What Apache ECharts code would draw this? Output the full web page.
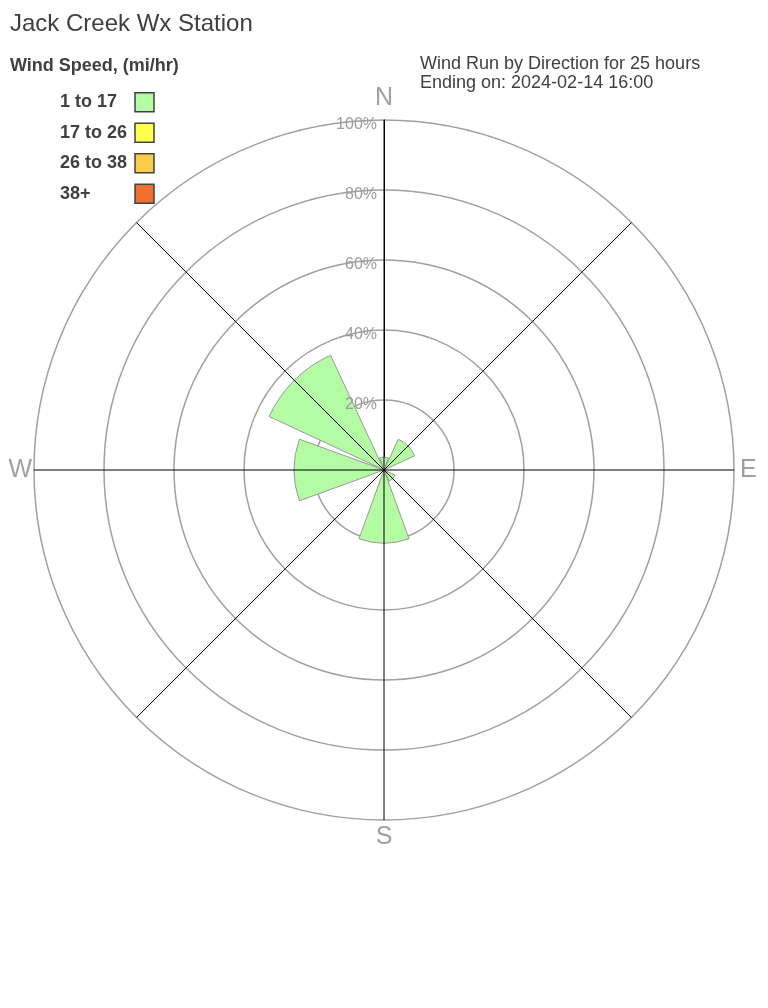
<!DOCTYPE html>
<html>
<head>
<meta charset="utf-8">
<script src="https://cdn.jsdelivr.net/npm/echarts@6/dist/echarts.min.js"></script>
<style>
html,body{margin:0;padding:0;background:#fff;}
#chart{width:768px;height:1008px;}
</style>
</head>
<body>
<div id="chart"></div>
<script>
// ---- data ----
var directions = ['N', 'NE', 'E', 'SE', 'S', 'SW', 'W', 'NW'];
var speedBins = ['1 to 17', '17 to 26', '26 to 38', '38+'];
var speed1to17 = [3.7, 9.7, 0, 3.5, 20.9, 0, 25.7, 36.2];
var speed17to26 = [0, 0, 0, 0, 0, 0, 0, 0];
var speed26to38 = [0, 0, 0, 0, 0, 0, 0, 0];
var speed38plus = [0, 0, 0, 0, 0, 0, 0, 0];
var radiusTicks = [0, 20, 40, 60, 80, 100];
var binColors = ['#b3fca3', '#ffff4c', '#f8cc48', '#ef7030'];
var compassLabels = ['N', 'E', 'S', 'W'];

var FONT = 'Liberation Sans, Arial, sans-serif';
var chart = echarts.init(document.getElementById('chart'), null, {renderer: 'canvas'});

var seriesValues = [speed1to17, speed17to26, speed26to38, speed38plus];
var series = speedBins.map(function (name, i) {
  return {
    type: 'bar',
    name: name,
    coordinateSystem: 'polar',
    polarIndex: 0,
    stack: 'wind',
    barCategoryGap: '11%',
    z: 2,
    itemStyle: {color: binColors[i], borderColor: '#999999', borderWidth: 1},
    emphasis: {disabled: true},
    data: seriesValues[i].map(function (v) { return v > 0 ? v : null; })
  };
});

var LBL = {fontSize: 25, color: '#a0a0a0', fontFamily: FONT};
function lbl(pad) { return {fontSize: LBL.fontSize, color: LBL.color, fontFamily: FONT, padding: pad}; }

var option = {
  backgroundColor: '#ffffff',
  animation: false,
  textStyle: {fontFamily: FONT},
  title: [
    {text: 'Jack Creek Wx Station', left: 10, top: 12, padding: 0,
     textStyle: {fontFamily: FONT, fontSize: 24, fontWeight: 'normal', color: '#404040'}},
    {text: 'Wind Speed, (mi/hr)', left: 10, top: 57, padding: 0,
     textStyle: {fontFamily: FONT, fontSize: 18, fontWeight: 'bold', color: '#404040'}},
    {text: 'Wind Run by Direction for 25 hours\nEnding on: 2024-02-14 16:00', left: 420, top: 55, padding: 0,
     textStyle: {fontFamily: FONT, fontSize: 18, fontWeight: 'normal', color: '#404040', lineHeight: 19}}
  ],
  legend: {
    orient: 'vertical',
    left: 60,
    top: 92,
    padding: 0,
    align: 'right',
    itemWidth: 19,
    itemHeight: 19,
    itemGap: 10,
    icon: 'rect',
    selectedMode: false,
    data: speedBins,
    itemStyle: {borderColor: '#404040', borderWidth: 1.5},
    formatter: function (name) { return '{a|' + name + '}'; },
    textStyle: {
      fontFamily: FONT, fontSize: 18, fontWeight: 'bold', color: '#404040',
      rich: {a: {width: 70, align: 'left', fontFamily: FONT, fontSize: 18, fontWeight: 'bold', color: '#404040'}}
    }
  },
  polar: [
    {center: [384, 470], radius: 350},
    {center: [384, 470], radius: 350},
    {center: [384, 470], radius: 350}
  ],
  angleAxis: [
    {
      polarIndex: 0,
      type: 'category',
      data: directions,
      startAngle: 112.5,
      clockwise: true,
      boundaryGap: true,
      axisLine: {show: false},
      axisTick: {show: false},
      splitLine: {show: false},
      axisLabel: {
        show: true,
        margin: 2,
        color: LBL.color,
        fontFamily: FONT,
        fontSize: LBL.fontSize,
        formatter: function (v) {
          if (compassLabels.indexOf(v) < 0) return '';
          return '{' + v.toLowerCase() + '|' + v + '}';
        },
        rich: {
          n: lbl([0, 0, 7, 0]),
          e: lbl([0, 0, 0, 4]),
          s: lbl([3, 0, 0, 0]),
          w: lbl([0, 0, 0, 0])
        }
      }
    },
    {
      polarIndex: 1,
      type: 'value',
      min: 0,
      max: 360,
      interval: 45,
      startAngle: 90,
      clockwise: true,
      z: 4,
      axisLine: {show: false},
      axisTick: {show: false},
      axisLabel: {show: false},
      splitLine: {show: true, lineStyle: {color: '#000000', width: 1}}
    },
    {
      polarIndex: 2,
      type: 'value',
      min: 0,
      max: 360,
      startAngle: 90,
      show: false
    }
  ],
  radiusAxis: [
    {
      polarIndex: 0,
      type: 'value',
      min: 0,
      max: 100,
      show: false
    },
    {
      polarIndex: 1,
      type: 'value',
      min: 0,
      max: 100,
      interval: 20,
      z: 1,
      axisLine: {show: true, lineStyle: {color: '#000000', width: 1}},
      axisTick: {show: false},
      axisLabel: {show: false},
      splitLine: {show: true, lineStyle: {color: '#a0a0a0', width: 1.5}}
    },
    {
      polarIndex: 2,
      type: 'value',
      min: 0,
      max: 100,
      interval: 20,
      z: 5,
      axisLine: {show: false},
      axisTick: {show: false},
      splitLine: {show: false},
      axisLabel: {
        show: true,
        margin: 7,
        color: '#9c9c9c',
        fontFamily: FONT,
        fontSize: 16,
        formatter: function (v) {
          return (v === radiusTicks[0]) ? '' : '{p|' + v + '%}';
        },
        rich: {p: {color: '#9c9c9c', fontFamily: FONT, fontSize: 16, padding: [9, 0, 0, 0]}}
      }
    }
  ],
  series: series
};
chart.setOption(option);
</script>
</body>
</html>
